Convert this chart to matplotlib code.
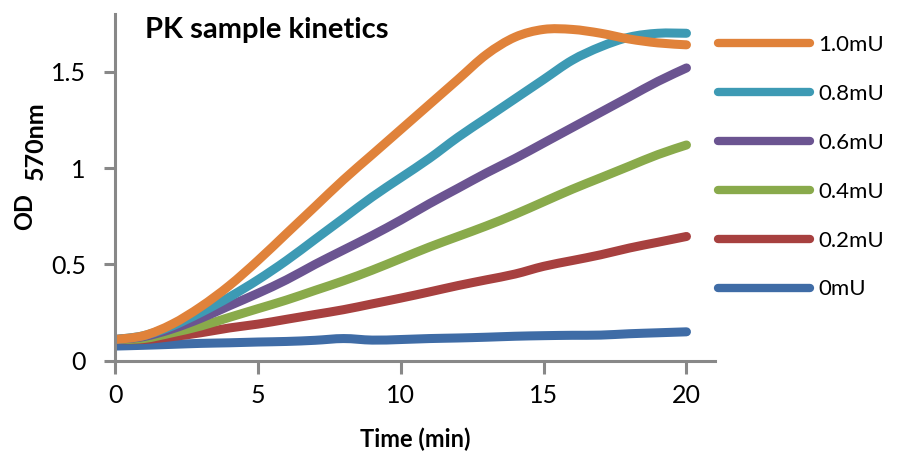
import numpy as np
import matplotlib.pyplot as plt
from matplotlib.path import Path
from matplotlib.patches import PathPatch
from matplotlib.lines import Line2D

plt.rcParams['font.family'] = ['Lato', 'DejaVu Sans']

# Data
time = np.arange(0, 21)
od_1_0 = [0.11, 0.13, 0.19, 0.28, 0.39, 0.52, 0.66, 0.80, 0.94, 1.07, 1.20,
          1.33, 1.46, 1.59, 1.68, 1.72, 1.72, 1.70, 1.67, 1.65, 1.64]
od_0_8 = [0.11, 0.13, 0.18, 0.25, 0.33, 0.42, 0.52, 0.63, 0.74, 0.85, 0.95,
          1.05, 1.16, 1.26, 1.36, 1.46, 1.56, 1.63, 1.68, 1.70, 1.70]
od_0_6 = [0.11, 0.125, 0.165, 0.22, 0.285, 0.35, 0.42, 0.50, 0.575, 0.65, 0.73,
          0.815, 0.895, 0.975, 1.05, 1.13, 1.21, 1.29, 1.37, 1.45, 1.52]
od_0_4 = [0.11, 0.115, 0.145, 0.18, 0.225, 0.27, 0.315, 0.365, 0.415, 0.47, 0.53,
          0.59, 0.645, 0.70, 0.76, 0.825, 0.89, 0.95, 1.01, 1.07, 1.12]
od_0_2 = [0.11, 0.11, 0.125, 0.145, 0.17, 0.19, 0.215, 0.24, 0.265, 0.295, 0.325,
          0.357, 0.39, 0.42, 0.45, 0.49, 0.52, 0.55, 0.585, 0.615, 0.645]
od_0 = [0.076, 0.08, 0.085, 0.09, 0.093, 0.097, 0.10, 0.106, 0.115, 0.107, 0.11,
        0.115, 0.118, 0.122, 0.127, 0.13, 0.132, 0.133, 0.14, 0.145, 0.15]

labels = ['1.0mU', '0.8mU', '0.6mU', '0.4mU', '0.2mU', '0mU']
series = [od_1_0, od_0_8, od_0_6, od_0_4, od_0_2, od_0]
colors = ['#E0823A', '#3D9AB4', '#6B5491', '#89AA4B', '#A7403F', '#3F6CA6']


def smooth_path(x, y):
    # Excel-style smoothed line: cubic Bezier segments through the data points
    pts = np.column_stack([np.asarray(x, float), np.asarray(y, float)])
    ext = np.vstack([pts[0], pts, pts[-1]])
    verts = [pts[0]]
    codes = [Path.MOVETO]
    for i in range(len(pts) - 1):
        p0, p1, p2, p3 = ext[i], ext[i + 1], ext[i + 2], ext[i + 3]
        verts += [p1 + (p2 - p0) / 6, p2 - (p3 - p1) / 6, p2]
        codes += [Path.CURVE4] * 3
    return Path(verts, codes)


fig = plt.figure(figsize=(9, 4.67), dpi=100)
ax = fig.add_axes([0.1278, 0.2276, 0.6667, 0.7424])

for y, c in list(zip(series, colors))[::-1]:
    ax.add_patch(PathPatch(smooth_path(time, y), facecolor='none', edgecolor=c,
                           linewidth=6.5, capstyle='round', joinstyle='round'))

ax.set_xlim(0, 21)
ax.set_ylim(0, 1.8)
ax.set_xticks([0, 5, 10, 15, 20])
ax.set_yticks([0, 0.5, 1, 1.5])
ax.set_yticklabels(['0', '0.5', '1', '1.5'])

for s in ['top', 'right']:
    ax.spines[s].set_visible(False)
for s in ['left', 'bottom']:
    ax.spines[s].set_color('#888888')
    ax.spines[s].set_linewidth(2.2)

ax.tick_params(axis='x', length=9, width=2.2, color='#888888', labelsize=18, pad=8)
ax.tick_params(axis='y', length=8, width=2.2, color='#888888', labelsize=18, pad=13)

# Title and axis labels
fig.text(145 / 900, 1 - 38 / 467, 'PK sample kinetics', fontsize=21,
         fontweight='bold', va='baseline', ha='left')
fig.text(415 / 900, 1 - 447 / 467, 'Time (min)', fontsize=17,
         fontweight='bold', va='baseline', ha='center')
fig.text(25 / 900, 1 - 212 / 467, 'OD', fontsize=17, fontweight='bold',
         rotation=90, va='center', ha='center')
fig.text(35 / 900, 1 - 141 / 467, '570nm', fontsize=18, fontweight='bold',
         rotation=90, va='center', ha='center')

# Legend
handles = [Line2D([], [], color=c, linewidth=6, solid_capstyle='round') for c in colors]
fig.legend(handles, labels, loc='upper left', bbox_to_anchor=(718 / 900, 1 - 35 / 467),
           frameon=False, fontsize=16, handlelength=4.15, handletextpad=0.36,
           labelspacing=1.3, borderpad=0, borderaxespad=0)

plt.savefig('out.png', dpi=100)
